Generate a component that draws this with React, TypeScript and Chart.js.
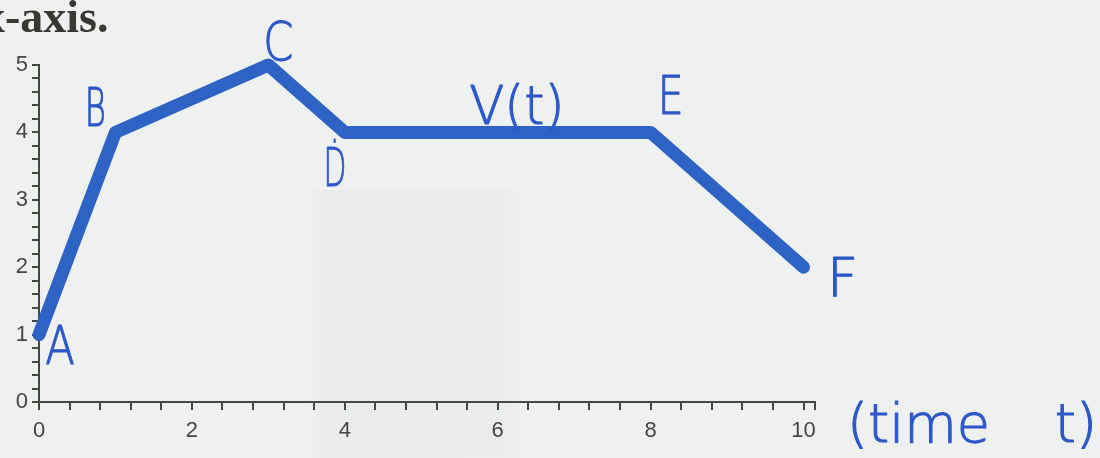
import { useEffect, useRef } from 'react';
import { Chart, registerables } from 'chart.js';

Chart.register(...registerables);

// ---- data ----
const times = [0, 1, 3, 4, 8, 10];
const velocity = [1, 4, 5, 4, 4, 2];
const pointNames = ['A', 'B', 'C', 'Ḋ', 'E', 'F'];
const xTickLabels = [0, 2, 4, 6, 8, 10];
const yTickLabels = [0, 1, 2, 3, 4, 5];
const curveName = 'V(t)';
const curveNameAt = [6.25, 4];
const axisNoteLeft = '(time';
const axisNoteRight = 't)';
const heading = 'x-axis.';

// ---- layout / style (not data) ----
const X_MIN = 0;
const X_MAX = 10.15;
const Y_MIN = 0;
const Y_MAX = 5;
const X_MINOR = 0.4;
const Y_MINOR = 0.2;
// pixel offsets of each point name from its point (baseline, centre) + horizontal squeeze
const nameOffsets: [number, number, number][] = [
  [21, 29, 0.8],
  [-20, -6, 0.6],
  [10, -5, 0.8],
  [-10, 54, 0.55],
  [20, -18, 0.76],
  [39, 29, 1.0],
];
const INK = '#2b58c9';
const LINE = '#2c63c4';
const AXIS = '#434a42';
const HAND_FONT = '"DejaVu Sans", sans-serif';

function buildTicks(min: number, max: number, step: number) {
  const out: { value: number }[] = [];
  const n = Math.floor((max - min) / step + 1e-9);
  for (let i = 0; i <= n; i++) out.push({ value: Math.round((min + i * step) * 1000) / 1000 });
  if (Math.abs(out[out.length - 1].value - max) > 1e-6) out.push({ value: max });
  return out;
}

function labelFor(v: number, labels: number[]) {
  const hit = labels.find((l) => Math.abs(l - v) < 1e-6);
  return hit === undefined ? '' : String(hit);
}

function handText(ctx: CanvasRenderingContext2D, text: string, x: number, y: number, sx: number, size: number, align: CanvasTextAlign = 'center') {
  ctx.save();
  ctx.translate(x, y);
  ctx.scale(sx, 1);
  ctx.font = `200 ${size}px ${HAND_FONT}`;
  ctx.textAlign = align;
  ctx.textBaseline = 'alphabetic';
  ctx.fillStyle = INK;
  ctx.strokeStyle = INK;
  ctx.lineWidth = 1.1;
  ctx.lineJoin = 'round';
  ctx.fillText(text, 0, 0);
  ctx.strokeText(text, 0, 0);
  ctx.restore();
}

const paperPlugin = {
  id: 'paper',
  beforeDraw(chart: any) {
    const { ctx, width, height } = chart;
    ctx.save();
    ctx.fillStyle = '#eff1f1';
    ctx.fillRect(0, 0, width, height);
    const g = ctx.createLinearGradient(305, 0, 530, 0);
    g.addColorStop(0, 'rgba(120,125,135,0)');
    g.addColorStop(0.08, 'rgba(120,125,135,0.045)');
    g.addColorStop(0.88, 'rgba(120,125,135,0.04)');
    g.addColorStop(1, 'rgba(120,125,135,0)');
    ctx.fillStyle = g;
    ctx.fillRect(305, 190, 225, height - 190);
    ctx.restore();
  },
};

const notesPlugin = {
  id: 'notes',
  afterDraw(chart: any) {
    const { ctx } = chart;
    const xs = chart.scales.x;
    const ys = chart.scales.y;
    // heading text (cut off at the left edge like the scan)
    ctx.save();
    ctx.font = 'bold 46px "Liberation Serif", "Times New Roman", serif';
    ctx.fillStyle = '#363a32';
    ctx.textAlign = 'left';
    ctx.textBaseline = 'alphabetic';
    ctx.fillText(heading, -18, 32);
    ctx.restore();
    // point names
    times.forEach((t, i) => {
      const px = xs.getPixelForValue(t);
      const py = ys.getPixelForValue(velocity[i]);
      const [dx, dy, sx] = nameOffsets[i];
      handText(ctx, pointNames[i], px + dx, py + dy, sx, 54);
    });
    // curve name
    handText(ctx, curveName, xs.getPixelForValue(curveNameAt[0]), ys.getPixelForValue(curveNameAt[1]) - 8, 0.95, 54);
    // axis note
    const ax = xs.getPixelForValue(X_MAX);
    const ay = ys.getPixelForValue(Y_MIN);
    handText(ctx, axisNoteLeft, ax + 32, ay + 40, 1.0, 54, 'left');
    handText(ctx, axisNoteRight, ax + 282, ay + 40, 1.0, 54, 'right');
  },
};

export default function App() {
  const ref = useRef<HTMLCanvasElement | null>(null);
  useEffect(() => {
    if (!ref.current) return;
    const chart = new Chart(ref.current, {
      type: 'line',
      data: {
        datasets: [
          {
            data: times.map((t, i) => ({ x: t, y: velocity[i] })),
            borderColor: LINE,
            borderWidth: 13,
            borderCapStyle: 'round',
            borderJoinStyle: 'round',
            pointRadius: 0,
            tension: 0,
            fill: false,
            clip: false as any,
          },
        ],
      },
      options: {
        responsive: false,
        maintainAspectRatio: false,
        animation: false,
        layout: { padding: { top: 65, right: 285, left: 0, bottom: 0 } },
        plugins: { legend: { display: false }, tooltip: { enabled: false } },
        scales: {
          x: {
            type: 'linear',
            min: X_MIN,
            max: X_MAX,
            afterBuildTicks: (s: any) => {
              s.ticks = buildTicks(X_MIN, X_MAX, X_MINOR);
            },
            afterFit: (s: any) => {
              s.height = 56;
            },
            ticks: {
              autoSkip: false,
              maxRotation: 0,
              padding: 8,
              color: '#454545',
              font: { family: '"Liberation Sans", Arial, sans-serif', size: 22 },
              callback: (v: any) => labelFor(Number(v), xTickLabels),
            },
            grid: { drawOnChartArea: false, drawTicks: true, tickLength: 8, color: AXIS, lineWidth: 2 },
            border: { display: true, color: AXIS, width: 2 },
          },
          y: {
            type: 'linear',
            min: Y_MIN,
            max: Y_MAX,
            afterBuildTicks: (s: any) => {
              s.ticks = buildTicks(Y_MIN, Y_MAX, Y_MINOR);
            },
            afterFit: (s: any) => {
              s.width = 39;
            },
            ticks: {
              autoSkip: false,
              padding: 4,
              color: '#454545',
              font: { family: '"Liberation Sans", Arial, sans-serif', size: 22 },
              callback: (v: any) => labelFor(Number(v), yTickLabels),
            },
            grid: { drawOnChartArea: false, drawTicks: true, tickLength: 7, color: AXIS, lineWidth: 2 },
            border: { display: true, color: AXIS, width: 2 },
          },
        },
      },
      plugins: [paperPlugin, notesPlugin],
    });
    return () => chart.destroy();
  }, []);
  return (
    <div style={{ position: 'fixed', left: 0, top: 0, width: 1100, height: 458, background: '#eff1f1', overflow: 'hidden' }}>
      <canvas ref={ref} width={1100} height={458} style={{ display: 'block', width: 1100, height: 458 }} />
    </div>
  );
}
